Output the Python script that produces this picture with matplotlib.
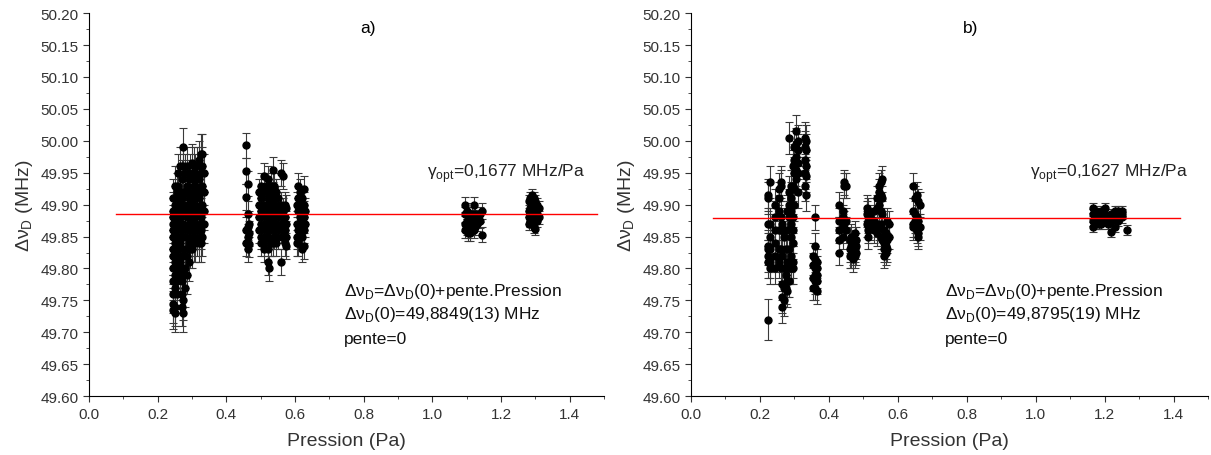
import numpy as np
import matplotlib
matplotlib.use('Agg')
import matplotlib.pyplot as plt
from matplotlib.ticker import MultipleLocator

plt.rcParams['font.family'] = ['Liberation Sans', 'DejaVu Sans']

# ---- panel a) : columns of points, x = pressure (Pa), y = Doppler width (MHz)
a1_x = [0.245, 0.25, 0.255, 0.26, 0.265, 0.27, 0.275, 0.28, 0.285, 0.29,
        0.295, 0.30, 0.305, 0.31, 0.315, 0.32, 0.325, 0.33, 0.335]
a1_y = [[49.91, 49.89, 49.88, 49.87, 49.86, 49.85, 49.83, 49.82, 49.80, 49.78, 49.76, 49.745, 49.735],
        [49.93, 49.90, 49.88, 49.86, 49.84, 49.81, 49.79, 49.77, 49.74, 49.73],
        [49.92, 49.895, 49.87, 49.85, 49.83, 49.80, 49.78, 49.76],
        [49.95, 49.93, 49.91, 49.89, 49.87, 49.84, 49.82, 49.80],
        [49.96, 49.92, 49.90, 49.88, 49.86, 49.84, 49.81, 49.79],
        [49.94, 49.91, 49.89, 49.87, 49.85, 49.83, 49.80, 49.78, 49.76, 49.74],
        [49.99, 49.96, 49.92, 49.90, 49.87, 49.85, 49.82, 49.79, 49.75, 49.73],
        [49.95, 49.92, 49.89, 49.86, 49.83, 49.80, 49.77],
        [49.96, 49.93, 49.90, 49.88, 49.85, 49.82, 49.79],
        [49.94, 49.91, 49.89, 49.87, 49.84, 49.81],
        [49.95, 49.92, 49.90, 49.88, 49.86, 49.83],
        [49.965, 49.94, 49.91, 49.89, 49.87, 49.85, 49.83],
        [49.96, 49.93, 49.91, 49.88, 49.86, 49.84],
        [49.95, 49.93, 49.90, 49.88, 49.86, 49.84],
        [49.96, 49.94, 49.92, 49.89, 49.87, 49.85],
        [49.97, 49.94, 49.91, 49.89, 49.86, 49.84],
        [49.98, 49.95, 49.92, 49.90, 49.88, 49.86, 49.84],
        [49.98, 49.96, 49.93, 49.90, 49.87, 49.85],
        [49.95, 49.92, 49.89, 49.87]]
a2_x = [0.458, 0.462, 0.466]
a2_y = [[49.993, 49.953, 49.912, 49.86, 49.84],
        [49.933, 49.885, 49.865, 49.85, 49.83],
        [49.87, 49.855, 49.838]]
a3_x = [0.495, 0.50, 0.51, 0.515, 0.52, 0.525, 0.53, 0.535, 0.54, 0.545,
        0.55, 0.56, 0.565, 0.57, 0.575]
a3_y = [[49.92, 49.90, 49.88, 49.86],
        [49.93, 49.91, 49.89, 49.87, 49.85, 49.84],
        [49.945, 49.92, 49.90, 49.88, 49.86, 49.84, 49.83],
        [49.93, 49.90, 49.87, 49.85],
        [49.94, 49.91, 49.89, 49.87, 49.85, 49.83, 49.81],
        [49.92, 49.90, 49.88, 49.86, 49.80],
        [49.93, 49.91, 49.89, 49.87, 49.84],
        [49.955, 49.92, 49.90, 49.88, 49.86, 49.84],
        [49.93, 49.91, 49.89, 49.87, 49.85],
        [49.92, 49.90, 49.88, 49.86, 49.84],
        [49.91, 49.89, 49.87, 49.85],
        [49.95, 49.90, 49.88, 49.86, 49.81],
        [49.945, 49.89, 49.87, 49.85],
        [49.90, 49.88, 49.86, 49.84],
        [49.895, 49.87, 49.85, 49.835]]
a4_x = [0.605, 0.61, 0.615, 0.62, 0.625, 0.63]
a4_y = [[49.90, 49.87, 49.85, 49.84],
        [49.93, 49.91, 49.89, 49.86, 49.84],
        [49.92, 49.90, 49.88, 49.86],
        [49.91, 49.89, 49.87, 49.85, 49.83],
        [49.925, 49.90, 49.88, 49.86, 49.835],
        [49.89, 49.87]]
a5_x = [1.095, 1.10, 1.105, 1.11, 1.115, 1.12, 1.125, 1.13, 1.14, 1.145]
a5_y = [[49.90, 49.885, 49.87, 49.86],
        [49.89, 49.875, 49.865],
        [49.885, 49.87, 49.86, 49.855],
        [49.88, 49.87, 49.855],
        [49.885, 49.875, 49.865],
        [49.90, 49.88, 49.87, 49.86],
        [49.885, 49.875, 49.865],
        [49.88, 49.87],
        [49.885, 49.875],
        [49.89, 49.853]]
a6_x = [1.28, 1.285, 1.29, 1.295, 1.30, 1.305, 1.31]
a6_y = [[49.905, 49.89, 49.88, 49.87],
        [49.91, 49.895, 49.885, 49.875],
        [49.915, 49.90, 49.89, 49.88, 49.87],
        [49.91, 49.895, 49.885, 49.875, 49.865],
        [49.905, 49.89, 49.88, 49.862],
        [49.90, 49.885, 49.875],
        [49.895, 49.88]]
a_err = [0.03, 0.02, 0.02, 0.02, 0.012, 0.01]

# ---- panel b)
b1_x = [0.222, 0.23, 0.245, 0.255, 0.26, 0.265, 0.27, 0.275, 0.28, 0.285,
        0.29, 0.295, 0.30, 0.305, 0.31, 0.33, 0.335]
b1_y = [[49.915, 49.91, 49.87, 49.835, 49.83, 49.82, 49.81],
        [49.935, 49.87, 49.85, 49.83, 49.81, 49.80],
        [49.90, 49.88, 49.86, 49.84, 49.82, 49.80],
        [49.925, 49.91, 49.89, 49.86, 49.83, 49.81],
        [49.935, 49.93, 49.88, 49.86, 49.83, 49.80],
        [49.87, 49.86, 49.82, 49.775, 49.755, 49.74],
        [49.85, 49.80, 49.77, 49.75],
        [49.83, 49.79, 49.77],
        [49.89, 49.86, 49.81, 49.78, 49.765],
        [50.005, 49.92, 49.90, 49.88, 49.83, 49.80, 49.78],
        [49.93, 49.91, 49.89, 49.87, 49.85, 49.82, 49.80],
        [49.96, 49.93, 49.88, 49.86, 49.84, 49.81, 49.80],
        [49.99, 49.97, 49.95, 49.925, 49.90],
        [50.015, 49.995, 49.975, 49.955, 49.94],
        [50.0, 49.985, 49.965, 49.95, 49.92],
        [50.005, 49.99, 49.97, 49.95, 49.93],
        [50.0, 49.985, 49.96, 49.945, 49.915]]
b0_x = [0.222]
b0_y = [[49.72]]
b2_x = [0.355, 0.36, 0.365]
b2_y = [[49.82, 49.805, 49.785, 49.77],
        [49.88, 49.835, 49.815, 49.80, 49.79, 49.78, 49.77],
        [49.81, 49.80, 49.79, 49.78, 49.765]]
b3_x = [0.43, 0.44, 0.445, 0.45, 0.46, 0.465, 0.47, 0.475, 0.48]
b3_y = [[49.90, 49.875, 49.86, 49.845, 49.825],
        [49.89, 49.88, 49.865, 49.85],
        [49.935, 49.93, 49.87],
        [49.93, 49.875, 49.86],
        [49.845, 49.83, 49.82],
        [49.85, 49.835, 49.82],
        [49.84, 49.825, 49.815],
        [49.855, 49.83, 49.82],
        [49.845, 49.835, 49.825]]
b4_x = [0.51, 0.515, 0.52, 0.53, 0.54, 0.545, 0.55, 0.555, 0.56, 0.565,
        0.57, 0.575]
b4_y = [[49.895, 49.885, 49.87],
        [49.89, 49.875, 49.86, 49.85],
        [49.88, 49.865],
        [49.89, 49.875, 49.86],
        [49.91, 49.895, 49.87, 49.855],
        [49.93, 49.92, 49.90, 49.865],
        [49.935, 49.915, 49.89, 49.87, 49.85],
        [49.94, 49.91, 49.885, 49.845],
        [49.86, 49.84, 49.83, 49.82],
        [49.855, 49.835, 49.825],
        [49.875, 49.845, 49.83],
        [49.87, 49.85]]
b5_x = [0.645, 0.65, 0.655, 0.66, 0.665]
b5_y = [[49.93, 49.89, 49.87, 49.865],
        [49.91, 49.885, 49.875],
        [49.915, 49.88, 49.86],
        [49.905, 49.875, 49.855, 49.85],
        [49.90, 49.865]]
b6_x = [1.165, 1.175, 1.185, 1.19, 1.20, 1.21, 1.22, 1.23, 1.24, 1.25, 1.265]
b6_y = [[49.895, 49.885, 49.875, 49.865],
        [49.89, 49.88, 49.87],
        [49.885, 49.875, 49.87],
        [49.89, 49.88, 49.87],
        [49.895, 49.885, 49.875],
        [49.88, 49.87],
        [49.885, 49.875, 49.857],
        [49.89, 49.88, 49.865],
        [49.89, 49.885, 49.875],
        [49.89, 49.885, 49.88],
        [49.86]]
b_err = [0.025, 0.032, 0.02, 0.02, 0.02, 0.02, 0.008]

fit_a = 49.8849
fit_b = 49.8795
fit_a_range = [0.078, 1.48]
fit_b_range = [0.065, 1.42]


def flatten(xs, ys):
    n = [len(c) for c in ys]
    return np.repeat(xs, n), np.concatenate(ys)


def draw(ax, clusters, errs, fit, fit_range, tag, gamma, lines, tx):
    for (xs, ys), e in zip(clusters, errs):
        x, y = flatten(xs, ys)
        ax.errorbar(x, y, yerr=e, fmt='o', color='black', ms=5,
                    ecolor='#3a3a3a', elinewidth=0.8, capsize=3, capthick=0.8,
                    zorder=2)
    ax.plot(fit_range, [fit, fit], color='red', lw=1, zorder=3)
    ax.set_xlim(0, 1.5)
    ax.set_ylim(49.60, 50.20)
    ax.xaxis.set_major_locator(MultipleLocator(0.2))
    ax.xaxis.set_minor_locator(MultipleLocator(0.1))
    ax.yaxis.set_major_locator(MultipleLocator(0.05))
    ax.yaxis.set_minor_locator(MultipleLocator(0.025))
    ax.xaxis.set_major_formatter(matplotlib.ticker.FormatStrFormatter('%.1f'))
    ax.yaxis.set_major_formatter(matplotlib.ticker.FormatStrFormatter('%.2f'))
    ax.tick_params(which='both', direction='out', labelsize=11, color='#333333',
                   labelcolor='#333333')
    ax.tick_params(which='major', length=4)
    ax.tick_params(which='minor', length=2.5)
    ax.spines['top'].set_visible(False)
    ax.spines['right'].set_visible(False)
    ax.set_xlabel('Pression (Pa)', fontsize=14, color='#333333', labelpad=8)
    ax.set_ylabel('Δν$_\\mathregular{D}$ (MHz)', fontsize=14, color='#333333')
    ax.text(0.79, 50.177, tag, fontsize=12.5, ha='left', va='center')
    ax.text(0.985, 49.950, gamma, fontsize=12.5, va='center', color='#222222')
    for line, yv in zip(lines, [49.766, 49.729, 49.690]):
        ax.text(tx, yv, line, fontsize=12.5, va='center', color='#111111')


fig = plt.figure(figsize=(12.11, 4.56), dpi=100)
ax_a = fig.add_axes([0.0735, 0.129, 0.4253, 0.84])
ax_b = fig.add_axes([0.5706, 0.129, 0.4269, 0.84])

draw(ax_a,
     [(a1_x, a1_y), (a2_x, a2_y), (a3_x, a3_y), (a4_x, a4_y), (a5_x, a5_y), (a6_x, a6_y)],
     a_err, fit_a, fit_a_range, 'a)', 'γ$_\\mathregular{opt}$=0,1677 MHz/Pa',
     ['Δν$_\\mathregular{D}$=Δν$_\\mathregular{D}$(0)+pente.Pression',
      'Δν$_\\mathregular{D}$(0)=49,8849(13) MHz',
      'pente=0'], 0.742)
draw(ax_b,
     [(b1_x, b1_y), (b0_x, b0_y), (b2_x, b2_y), (b3_x, b3_y), (b4_x, b4_y),
      (b5_x, b5_y), (b6_x, b6_y)],
     b_err, fit_b, fit_b_range, 'b)', 'γ$_\\mathregular{opt}$=0,1627 MHz/Pa',
     ['Δν$_\\mathregular{D}$=Δν$_\\mathregular{D}$(0)+pente.Pression',
      'Δν$_\\mathregular{D}$(0)=49,8795(19) MHz',
      'pente=0'], 0.736)

fig.savefig('out.png', dpi=100)
